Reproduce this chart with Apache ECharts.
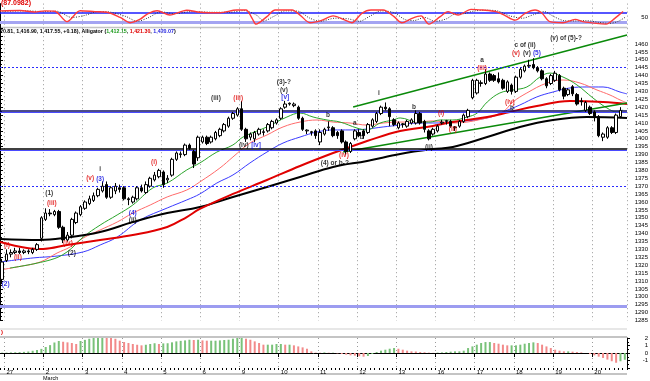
<!DOCTYPE html>
<html><head><meta charset="utf-8">
<script src="https://cdn.jsdelivr.net/npm/echarts@6/dist/echarts.min.js"></script>
<style>html,body{margin:0;padding:0;background:#fff}#c{width:650px;height:381px}</style>
</head><body><div id="c"></div>
<script>
// ---------- data ----------
const N = 144;
const dateLabels = ['27','2','3','4','5','6','9','10','11','12','13','16','17','18','19','20'];
const monthLabel = 'March';
const oscTitle = '(87.0982)';
const headerValues = ['20.81, 1,416.90, 1,417.55, +0.18), Alligator (', '1,412.15', '1,421.30', '1,420.07'];
const priceTicks = {min:1285, max:1470, step:5, maxShown:1460};

const opens = [1311,1323,1327,1328,1329,1328,1329,1328,1330,1337,1349,1353,1352,1354,1344,1336,1339,1347,1352,1356,
1359,1361,1364,1367,1371,1363,1367,1369,1369,1362,1360,1362,1369,1366,1370,1374,1376,1379,1374,1377,
1387,1390,1390,1396,1392,1388,1398,1401,1398,1400,1402,1405,1408,1413,1415,1419,1406,1401,1400,1403,
1404,1405,1407,1410,1413,1420,1422,1421,1420,1413,1405,1404,1405,1398,1403,1407,1407,1404,1405,1398,
1392,1400,1404,1405,1404,1408,1411,1416,1420,1419,1412,1407,1409,1408,1410,1410,1416,1411,1405,1403,
1405,1410,1411,1411,1407,1408,1411,1414,1426,1429,1435,1435,1441,1440,1438,1437,1430,1434,1430,1439,
1443,1446,1447,1445,1443,1438,1435,1437,1440,1432,1428,1433,1428,1424,1418,1420,1417,1414,1401,1401,
1407,1404,1414];
const closes = [1322,1327,1328,1329,1328,1329,1328.5,1330,1333,1350,1353,1352.5,1354,1344,1336,1339,1349,1353,1357,1360,
1362,1364,1368,1370,1363,1369,1370,1368,1362,1361.5,1363,1369,1367,1371,1375,1377,1380,1371,1375,1387,
1391,1390.5,1396,1394,1384,1401,1401,1397,1401,1404,1406,1409,1413,1416,1419,1406,1400,1403,1404,1406,
1404.5,1409,1411,1412,1419,1422,1422.5,1422,1413,1406,1405.5,1404.5,1402,1404,1406,1407.5,1402,1402,1398,1392,
1397,1405,1402,1402,1409,1412,1416,1420,1419,1414,1409,1410,1409.5,1411,1412,1416,1410,1406,1400,1406,
1408,1410.5,1411.5,1408,1407.5,1411,1415,1418,1437,1437,1435.5,1441,1437,1437,1436,1432,1436,1430,1439,1444,
1446,1446.5,1445,1443,1438,1433.5,1440,1441.5,1431,1427,1431,1428.5,1422,1423.5,1423,1416,1414,1402,1403,1407,
1404,1415,1418];
const lows = [1308,1322,1325,1327,1327,1327,1327,1327,1329,1335,1348,1351,1351,1343,1334,1335,1337,1346,1351,1355,
1358,1360,1363,1366,1362,1362,1365,1366,1361,1358,1359,1361,1366,1365,1369,1373,1375,1369,1372,1376,
1386,1388,1389,1393,1381.5,1386,1397,1396,1397,1399,1401,1404,1407,1412,1414,1405,1398,1399,1398,1402,
1402,1404,1406,1409,1412,1419,1421,1420,1412,1405,1403,1402,1400,1396,1402,1405,1401,1400,1397,1390,
1391,1399,1401,1400,1403,1407,1410,1415,1418,1408,1408,1406,1407,1407,1409,1409,1409,1404,1399,1402,
1404,1409,1409,1407,1405,1407,1410,1413,1425,1428,1433,1434,1436,1436,1435,1431,1429,1428,1429,1438,
1442,1445,1444,1442,1437,1432,1434,1436,1430,1425,1427,1427,1421,1421,1417,1415,1411,1401,1398.5,1400,
1403,1403,1413];
const highs = [1324,1330,1330,1331,1331,1330,1330,1331,1334,1351,1356,1355.5,1355,1355,1345,1341,1350,1354,1358,1361,
1364,1366,1369,1373,1373,1370,1372,1371,1370,1363,1364,1370,1371,1373,1376,1379,1381,1380,1377,1388,
1392,1392,1397,1397,1393,1402,1402,1402,1402,1405,1407,1410,1414,1417,1420,1424,1407,1404,1405,1407,
1406,1410,1412,1413,1420,1424,1423,1423,1421,1414,1406,1405,1406,1406,1407,1411,1408,1405,1406,1399,
1398,1406,1406,1406,1410,1413,1417,1421,1423,1420,1413,1411,1410,1412,1413,1418,1417,1412,1406,1407,
1409,1412,1412,1412,1408,1412,1416,1419,1438,1438,1437,1444,1442,1441,1442,1438,1437,1435,1440,1445,
1447,1450,1451,1446,1444,1439,1441,1443,1441,1433,1432,1434,1429,1426,1424,1421,1418,1415,1404,1408,
1408,1416,1420];

// moving averages / alligator lines as [barPosition, price]
const maBlack = [[0,1336.6],[9.2,1336.0],[14.5,1337.2],[23.0,1341.0],[30.5,1347.3],[38.4,1353.0],[45.9,1356.8],[53.5,1363.2],[61.3,1369.5],[68.9,1375.8],[76.5,1382.2],[84.3,1386.0],[91.9,1390.4],[99.4,1393.5],[104.0,1394.8],[111.9,1401.1],[119.4,1407.5],[127.0,1411.9],[134.8,1413.8],[144,1413.2]];
const maRedThick = [[0,1334.7],[6.2,1330.9],[9.9,1330.3],[15.4,1332.8],[23.0,1336.0],[30.5,1339.1],[38.4,1344.2],[42.9,1350.5],[45.9,1355.6],[53.5,1365.1],[61.3,1373.9],[68.9,1382.8],[76.5,1391.0],[80.4,1394.8],[84.3,1398.6],[91.9,1404.9],[99.4,1408.1],[104.0,1410.6],[111.9,1413.8],[117.1,1417.0],[123.3,1420.8],[130.9,1423.9],[138.5,1423.3],[144,1422.0]];
const lipsGreen = [[2.3,1318.2],[11.5,1323.3],[15.4,1328.4],[19.1,1337.8],[23.0,1345.4],[26.9,1351.8],[30.5,1358.1],[35.1,1368.9],[38.4,1372.0],[42.9,1380.3],[45.9,1384.7],[49.8,1391.6],[53.5,1396.1],[55.8,1401.1],[61.3,1407.5],[65.9,1413.8],[68.9,1416.3],[71.9,1413.8],[75.1,1411.9],[78.1,1410.6],[82.0,1406.8],[84.3,1405.6],[87.3,1410.0],[90.3,1411.9],[91.9,1413.2],[95.8,1410.6],[98.8,1410.6],[101.1,1411.9],[104.0,1411.9],[107.3,1413.8],[109.6,1416.3],[111.9,1423.3],[114.8,1429.0],[117.8,1430.9],[121.0,1432.8],[124.0,1439.1],[126.3,1441.6],[129.3,1439.1],[132.5,1434.1],[136.2,1425.8],[139.4,1419.5],[141.7,1417.0],[143.1,1418.2]];
const teethRed = [[0,1317.0],[3.9,1318.9],[9.2,1322.0],[13.1,1327.7],[16.1,1331.5],[19.1,1337.2],[23.0,1342.3],[26.9,1347.3],[30.5,1353.0],[34.5,1358.1],[38.4,1363.2],[42.9,1367.6],[45.9,1372.7],[50.5,1381.5],[53.5,1388.5],[57.4,1397.3],[61.3,1402.4],[65.0,1407.5],[68.9,1410.6],[72.8,1411.9],[76.5,1410.6],[80.4,1410.0],[84.3,1408.7],[88.0,1410.0],[91.9,1410.6],[95.8,1410.6],[99.4,1411.3],[104.0,1410.0],[111.9,1413.2],[115.5,1417.0],[117.8,1423.3],[121.0,1429.0],[125.6,1435.3],[129.3,1437.2],[133.2,1435.3],[137.1,1430.9],[140.1,1427.7],[142.4,1424.6],[144,1422.7]];
const jawBlue = [[0,1322.0],[7.6,1324.6],[13.1,1325.8],[19.1,1328.4],[23.0,1332.8],[26.9,1337.8],[32.2,1348.6],[38.4,1356.2],[42.9,1361.3],[45.9,1365.1],[49.8,1372.0],[53.5,1377.1],[57.4,1384.7],[61.3,1391.6],[65.0,1397.3],[68.9,1401.1],[72.8,1404.3],[76.5,1405.6],[80.4,1405.6],[84.3,1406.2],[88.0,1407.5],[91.9,1408.7],[95.8,1410.0],[99.4,1410.0],[104.0,1410.6],[111.9,1413.2],[115.5,1417.0],[119.4,1421.4],[123.3,1426.5],[127.0,1429.6],[130.9,1432.2],[134.8,1432.8],[138.5,1432.8],[142.4,1429.6],[144,1428.4]];
const trendUpper = [[81.1,1420.1],[144,1465.7]];
const trendLower = [[78.8,1391.6],[144,1422.7]];

// horizontal levels
const levelsDotted = [1445, 1370];
const levelBlueDouble = [1417.2, 1393.2];
const levelLavender = 1293.8;

// oscillator (top panel)
const oscFast = [[0,88],[4.6,90],[8,82],[10.3,88],[12.6,86],[15.4,26],[18.4,89],[21.8,84],[24.6,80],[27.6,50],[29.9,20],[32.2,40],[33.8,70],[36.1,89],[39,64],[42.9,92],[45.9,80],[50.5,77],[54.4,93],[56.5,93],[57.9,45],[58.8,12],[61.3,55],[63.2,93],[67.1,93],[68.9,64],[71.2,20],[73.7,32],[76.5,59],[79.5,32],[80.8,20],[83.1,74],[85.2,93],[88,93],[90.5,55],[92.3,20],[94.6,45],[96.7,59],[98.5,12],[101.1,55],[102.9,84],[105.2,64],[108.2,97],[110.9,93],[113.9,84],[115.8,64],[118.3,35],[120.6,74],[122.9,93],[124.5,74],[126.3,26],[129.3,20],[132.1,39],[133.9,26],[136.9,16],[139.2,12],[141.2,45],[143.1,84]];
const oscSlow = [[0,85],[6,88],[10,84],[13,86],[16.5,50],[19.5,62],[22.5,84],[25.5,80],[29,55],[31.5,28],[34,48],[37,82],[40,72],[44,84],[49,80],[53,80],[56,90],[59,62],[60.5,30],[63,58],[65.5,88],[68.5,86],[71,48],[73.5,28],[77,46],[80,42],[82.5,28],[85,58],[87.5,88],[90.5,78],[93,38],[95,32],[97.5,50],[100,28],[102.5,42],[104.5,70],[106.5,72],[109,88],[112,92],[114.5,86],[117,60],[120,46],[122.5,66],[125,84],[127,58],[129.5,32],[132,30],[134.5,32],[137.5,22],[140,16],[142,28],[143.8,55]];
const oscLevels = [80, 20];

// histogram (bottom panel)
const histValues = [0.05,0.05,0.08,0.1,0.12,0.15,0.2,0.3,0.4,0.55,
0.8,1.05,1.4,1.6,1.5,1.42,1.33,1.2,1.6,1.75,
1.9,2.0,2.08,2.17,2.08,2.0,1.9,1.64,1.46,1.33,
1.2,1.1,1.02,1.1,1.2,1.3,1.2,1.28,1.3,1.42,
1.55,1.62,1.68,1.77,1.73,1.77,1.68,1.64,1.64,1.64,
1.68,1.73,1.77,1.91,2.0,2.0,1.91,1.77,1.55,1.33,
1.11,1.11,1.11,1.2,1.2,1.11,1.11,1.02,0.88,0.75,
0.57,0.22,0.05,0.04,0.08,0.04,0.04,-0.05,-0.13,-0.22,
-0.31,-0.35,-0.44,-0.49,-0.4,-0.13,0.13,0.31,0.44,0.57,
0.66,0.57,0.44,0.31,0.22,0.2,0.13,0.1,0.05,0.02,
0.05,0.08,0.13,0.18,0.22,0.22,0.31,0.66,0.88,1.11,
1.33,1.46,1.46,1.33,1.24,1.11,1.02,1.02,1.02,1.11,
1.24,1.33,1.42,1.33,1.11,0.88,0.66,0.44,0.31,0.22,
0.22,0.18,0.13,0.08,0,-0.13,-0.31,-0.49,-0.66,-0.88,
-1.1,-1.3,-1.1,-0.9];

// wave annotations: [text, barPosition, price, colour]
const waveLabels = [
 ['(2)',1.3,1308.1,'b'],['(i)',1.6,1332.8,'r'],['(ii)',4.1,1325.2,'r'],
 ['(1)',11.3,1365.7,'k'],['(iii)',11.9,1359.4,'r'],['(iv)',15.6,1334.1,'r'],['(2)',16.5,1327.7,'k'],
 ['(v)',20.7,1375.2,'r'],['i',23.0,1380.6,'k'],['(3)',23.0,1374.6,'b'],
 ['(4)',30.5,1353.0,'b'],['(ii)',30.5,1348.3,'k'],['(i)',35.4,1385.3,'r'],
 ['(iii)',49.6,1425.8,'k'],['(iii)',54.7,1425.8,'r'],['(iv)',56.0,1396.1,'k'],['[iv]',58.8,1396.1,'b'],
 ['(3)-?',65.2,1435.6,'k'],['(v)',65.2,1430.9,'k'],['[v]',65.5,1426.3,'b'],
 ['b',75.3,1415.1,'k'],['a',81.5,1410.0,'k'],['b',83.1,1401.1,'k'],['(iv)',79.0,1389.4,'r'],['(4) or b-?',76.9,1384.5,'k'],
 ['i',87.0,1429.0,'k'],['b',95.1,1420.1,'k'],['(ii)',98.5,1394.8,'k'],['(i)',101.3,1416.3,'r'],['(ii)',104.0,1406.2,'r'],
 ['a',110.7,1449.6,'k'],['(iii)',110.7,1444.8,'r'],['(iv)',117.1,1423.3,'r'],['b',117.6,1419.3,'k'],
 ['c of (ii)',120.6,1459.4,'k'],['(v)',118.5,1454.3,'r'],['(v)',121.0,1454.3,'k'],['(5)',123.3,1454.3,'b'],
 ['(v) of (5)-?',130.0,1463.8,'k']
];

// ---------- chart ----------
const PW = 627;
const FONT = '"Liberation Sans", Arial, sans-serif';
const colorMap = {k:'#000', r:'#e00000', b:'#0000e0'};
const cats = Array.from({length:N}, (_, i) => String(i));
const isMajor = i => i >= 1 && (i - 1) % 9 === 0 && (i - 1) / 9 < dateLabels.length;
const dotted = {show:true, interval:(i)=>isMajor(i), lineStyle:{color:'#9a9a9a', type:[1,3], width:1}};
const hiddenCat = (g) => ({type:'category', gridIndex:g, data:cats, boundaryGap:true,
  axisLine:{show:false}, axisTick:{show:false}, axisLabel:{show:false}, splitLine:dotted});
const hiddenVal = (g) => ({type:'value', gridIndex:g, min:0, max:N, show:false});

const candleData = cats.map((_, i) => i < opens.length ? [opens[i], closes[i], lows[i], highs[i]] : '-');
const histData = histValues.map((v, i) => ({
  value: v,
  itemStyle: {color: (i === 0 || v >= histValues[i-1]) ? '#79c279' : '#f28a8a'}
}));

const lineS = (data, color, width, z) => ({type:'line', xAxisIndex:3, yAxisIndex:1, data, smooth:0.4,
  symbol:'none', lineStyle:{color, width}, z: z || 2, silent:true});

const option = {
  animation:false,
  backgroundColor:'#fff',
  grid:[
    {left:0, top:3.6, width:PW, height:24.3, outerBoundsMode:'none'},
    {left:0, top:28.2, width:PW, height:292.3, outerBoundsMode:'none'},
    {left:0, top:338, width:PW, height:30, outerBoundsMode:'none'}
  ],
  xAxis:[
    hiddenCat(0), hiddenVal(0),
    hiddenCat(1), hiddenVal(1),
    {type:'category', gridIndex:2, data:cats, boundaryGap:true, position:'bottom',
     axisLine:{show:true, lineStyle:{color:'#000'}},
     axisTick:{show:true, interval:(i)=>isMajor(i), length:4, lineStyle:{color:'#000'}},
     axisLabel:{show:true, interval:(i)=>isMajor(i), formatter:(v)=>{const i=+v; return isMajor(i)?dateLabels[(i-1)/9]:'';},
       fontSize:6, fontFamily:FONT, color:'#000', align:'left', margin:1},
     splitLine:dotted},
    {type:'category', gridIndex:2, data:cats, boundaryGap:true, position:'bottom',
     axisLine:{show:false}, axisTick:{show:true, interval:0, length:2, lineStyle:{color:'#000'}},
     axisLabel:{show:false}, splitLine:{show:false}}
  ],
  yAxis:[
    {type:'value', gridIndex:0, position:'right', min:-10, max:130, interval:10,
     axisLine:{show:true, lineStyle:{color:'#000'}}, axisTick:{show:false}, splitLine:{show:false},
     axisLabel:{show:true, fontSize:6, fontFamily:FONT, color:'#000', align:'right', margin:21,
       formatter:(v)=> v === 50 ? '50' : ''}},
    {type:'value', gridIndex:1, position:'right', min:priceTicks.min, max:priceTicks.max, interval:priceTicks.step,
     axisLine:{show:true, lineStyle:{color:'#000'}},
     axisTick:{show:true, length:3, lineStyle:{color:'#000'}},
     minorTick:{show:true, splitNumber:2, length:2, lineStyle:{color:'#000'}},
     splitLine:{show:false},
     axisLabel:{show:true, fontSize:6, fontFamily:FONT, color:'#000', align:'right', margin:21,
       formatter:(v)=> v <= priceTicks.maxShown ? String(v) : ''}},
    {type:'value', gridIndex:2, position:'right', min:-2, max:2, interval:1,
     axisLine:{show:true, lineStyle:{color:'#000'}},
     axisTick:{show:true, length:3, lineStyle:{color:'#000'}},
     minorTick:{show:true, splitNumber:2, length:2, lineStyle:{color:'#000'}},
     splitLine:{show:false},
     axisLabel:{show:true, fontSize:6, fontFamily:FONT, color:'#000', align:'right', margin:21,
       formatter:(v)=> v > -2 ? String(v) : ''}}
  ],
  series:[
    // oscillator
    {type:'line', xAxisIndex:1, yAxisIndex:0, data:oscSlow, symbol:'none', smooth:0.3, silent:true,
     lineStyle:{color:'#333', width:1, type:[1,1.5]}, z:3},
    {type:'line', xAxisIndex:1, yAxisIndex:0, data:oscFast, symbol:'none', smooth:0.3, silent:true,
     lineStyle:{color:'#ff3a3a', width:1.4}, z:4,
     markLine:{silent:true, symbol:'none', label:{show:false}, z:2,
       data:[{yAxis:oscLevels[0], lineStyle:{color:'#1e1eff', width:1.5, type:'solid'}},
             {yAxis:oscLevels[1], lineStyle:{color:'#a4a4f2', width:3, type:'solid'}}]}},
    // candles + levels
    {type:'candlestick', xAxisIndex:2, yAxisIndex:1, data:candleData, barWidth:3, z:5, silent:true,
     itemStyle:{color:'#fff', color0:'#000', borderColor:'#000', borderColor0:'#000', borderColorDoji:'#000', borderWidth:1},
     markLine:{silent:true, symbol:'none', label:{show:false},
       data:[
         ...levelsDotted.map(v => ({yAxis:v, lineStyle:{color:'#2b2bff', width:1, type:[2,2]}})),
         ...levelBlueDouble.map((v, k) => ({yAxis:v + 0.35, lineStyle:{color: k === 0 ? '#101060' : '#000', width:1.5, type:'solid'}})),
         ...levelBlueDouble.map(v => ({yAxis:v - 0.55, lineStyle:{color:'#4a4aff', width:1, type:'solid'}})),
         {yAxis:levelLavender, lineStyle:{color:'#9c9cf0', width:3, type:'solid'}}
       ]}},
    lineS(maBlack, '#000', 2, 3),
    lineS(maRedThick, '#e00000', 2, 3),
    lineS(jawBlue, '#3a3aff', 1, 2),
    lineS(teethRed, '#ff6a6a', 1, 2),
    lineS(lipsGreen, '#2aa52a', 1, 2),
    {type:'line', xAxisIndex:3, yAxisIndex:1, data:trendUpper, symbol:'none', silent:true, lineStyle:{color:'#0a8a0a', width:1.6}, z:3},
    {type:'line', xAxisIndex:3, yAxisIndex:1, data:trendLower, symbol:'none', silent:true, lineStyle:{color:'#0a8a0a', width:1.6}, z:3},
    // annotations
    {type:'scatter', xAxisIndex:3, yAxisIndex:1, symbolSize:0, itemStyle:{color:'rgba(0,0,0,0)'}, silent:true, z:8,
     data: waveLabels.map(([t, x, p, c]) => ({value:[x, p], name:t, label:{color:colorMap[c]}})),
     label:{show:true, position:'inside', formatter:(p)=>p.name, fontSize:6.5, fontWeight:'bold', fontFamily:FONT}},
    // histogram
    {type:'bar', xAxisIndex:4, yAxisIndex:2, data:histData, barWidth:2, silent:true}
  ],
  graphic:[
    {type:'rect', left:0, top:26.8, shape:{width:PW, height:1.5}, style:{fill:'#c4c4c4'}, silent:true},
    {type:'rect', left:0, top:328.5, shape:{width:PW, height:1}, style:{fill:'#d0d0d0'}, silent:true},
    {type:'rect', left:0, top:336, shape:{width:PW, height:2}, style:{fill:'#c4c4c4'}, silent:true},
    {type:'rect', left:0, top:373, shape:{width:PW, height:2}, style:{fill:'#c4c4c4'}, silent:true},
    {type:'text', left:1, top:0, silent:true, style:{text:oscTitle, fill:'#e00000', font:'bold 7px ' + FONT}},
    {type:'text', left:1, top:329.5, silent:true, style:{text:')', fill:'#e00000', font:'bold 6px ' + FONT}},
    {type:'text', left:0, top:29.5, silent:true, style:{
      text:'{k|' + headerValues[0] + '}{g|' + headerValues[1] + '}{k|, }{r|' + headerValues[2] + '}{k|, }{b|' + headerValues[3] + '}{k|)}',
      rich:{
        k:{fill:'#000', fontSize:5.3, fontWeight:'bold', fontFamily:FONT},
        g:{fill:'#1a9a1a', fontSize:5.3, fontWeight:'bold', fontFamily:FONT},
        r:{fill:'#e00000', fontSize:5.3, fontWeight:'bold', fontFamily:FONT},
        b:{fill:'#1a1ae0', fontSize:5.3, fontWeight:'bold', fontFamily:FONT}
      }}},
    {type:'text', left:43, top:375, silent:true, style:{text:monthLabel, fill:'#000', font:'5.5px ' + FONT}}
  ]
};
const chart = echarts.init(document.getElementById('c'));
chart.setOption(option);
</script></body></html>
